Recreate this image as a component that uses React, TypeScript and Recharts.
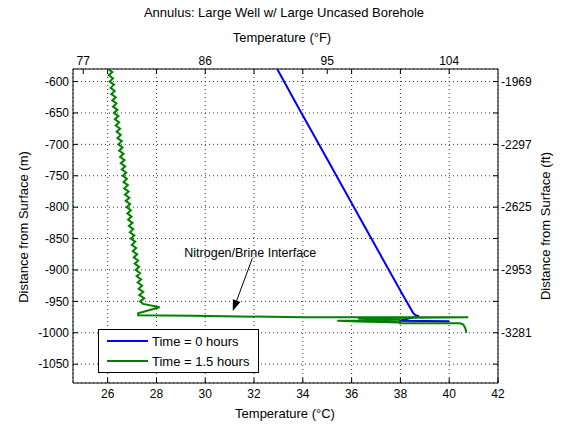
import React from 'react';
import { ScatterChart, Scatter, XAxis, YAxis, CartesianGrid, ReferenceLine } from 'recharts';

const FONT = '"Liberation Sans", Arial, Helvetica, sans-serif';
const BLUE = '#0000ff';
const GREEN = '#008000';

// axis ticks
const celsiusTicks = [26, 28, 30, 32, 34, 36, 38, 40, 42];
const fahrenheitTicks = [25, 26, 28, 30, 32, 34, 35, 36, 38, 40]; // 25/30/35/40 C carry F labels
const fahrenheitLabelled = [25, 30, 35, 40];
const depthTicks = [-600, -650, -700, -750, -800, -850, -900, -950, -1000, -1050];

// Time = 0 hours
const blueTemp = [32.95, 33.8, 34.66, 35.52, 36.38, 37.24, 38.1, 38.53, 38.62, 38.76, 37.95, 40.0];
const blueDepth = [-580, -640, -700, -760, -820, -880, -940, -969, -972, -973.5, -981, -981.5];

// Time = 1.5 hours
const greenTemp = [
  26.03, 26.19, 26.05, 26.22, 26.08, 26.26, 26.12, 26.29, 26.15, 26.33,
  26.19, 26.36, 26.22, 26.4, 26.26, 26.44, 26.3, 26.47, 26.33, 26.51,
  26.37, 26.54, 26.4, 26.58, 26.44, 26.61, 26.47, 26.65, 26.51, 26.69,
  26.54, 26.72, 26.58, 26.76, 26.62, 26.79, 26.65, 26.83, 26.68, 26.86,
  26.71, 26.89, 26.74, 26.92, 26.78, 26.95, 26.81, 26.98, 26.84, 27.02,
  26.87, 27.05, 26.91, 27.09, 26.95, 27.13, 26.99, 27.17, 27.03, 27.21,
  27.07, 27.25, 27.11, 27.29, 27.15, 27.33, 27.19, 27.37, 27.23, 27.41,
  27.27, 27.46, 27.3, 27.5, 27.33,
  27.45, 28.13, 27.25, 27.25, 29.5, 34.0, 40.78, 36.26, 37.98, 36.3, 37.98, 35.41,
  36.3, 37.98, 37.98, 40.44, 40.58, 40.66, 40.71,
];
const greenDepth = [
  -580, -585, -590, -595, -600, -605, -610, -615, -620, -625,
  -630, -635, -640, -645, -650, -655, -660, -665, -670, -675,
  -680, -685, -690, -695, -700, -705, -710, -715, -720, -725,
  -730, -735, -740, -745, -750, -755, -760, -765, -770, -775,
  -780, -785, -790, -795, -800, -805, -810, -815, -820, -825,
  -830, -835, -840, -845, -850, -855, -860, -865, -870, -875,
  -880, -885, -890, -895, -900, -905, -910, -915, -920, -925,
  -930, -935, -940, -945, -950,
  -954, -959.5, -969, -972, -973, -975.3, -975.5, -977, -978.5, -979.5, -981, -981,
  -982, -983.5, -985, -985, -987, -993, -1000,
];

// annotation arrow (start near text, tip at interface)
const arrowFrom = { x: 31.93, y: -881.4 };
const arrowTo = { x: 31.13, y: -965.4 };

const blueData = blueTemp.map((t, i) => ({ t, d: blueDepth[i] }));
const greenData = greenTemp.map((t, i) => ({ t, d: greenDepth[i] }));

const toF = (c: number) => Math.round(c * 9 / 5 + 32);
const toFt = (m: number) => Math.round(m * 3.28084);

const noDot = () => <g />;

const tickStyle = { fill: '#000', fontSize: 12, fontFamily: FONT };

const ArrowShape = (p: any) => {
  const { x1, y1, x2, y2 } = p;
  const ang = Math.atan2(y2 - y1, x2 - x1);
  const len = 11;
  const hw = 4;
  const bx = x2 - len * Math.cos(ang);
  const by = y2 - len * Math.sin(ang);
  const px = -Math.sin(ang) * hw;
  const py = Math.cos(ang) * hw;
  return (
    <g>
      <line x1={x1} y1={y1} x2={bx} y2={by} stroke="#000" strokeWidth={1} />
      <polygon points={`${x2},${y2} ${bx + px},${by + py} ${bx - px},${by - py}`} fill="#000" />
      <text x={x1 - 2} y={y1 - 1} textAnchor="middle" fontSize={12.5} fontFamily={FONT} fill="#000">
        Nitrogen/Brine Interface
      </text>
    </g>
  );
};

const Label = ({ x, y, rot = 0, size = 13, children }: any) => (
  <div
    style={{
      position: 'absolute',
      left: x,
      top: y,
      transform: `translate(-50%, -50%) rotate(${rot}deg)`,
      whiteSpace: 'nowrap',
      fontFamily: FONT,
      fontSize: size,
      lineHeight: 1,
      color: '#000',
    }}
  >
    {children}
  </div>
);

const LegendRow = ({ color, text }: { color: string; text: string }) => (
  <div style={{ display: 'flex', alignItems: 'center', height: 20 }}>
    <div style={{ width: 41, height: 2, background: color, marginLeft: 8, marginRight: 4 }} />
    <span style={{ fontFamily: FONT, fontSize: 13 }}>{text}</span>
  </div>
);

export default function App() {
  return (
    <div style={{ position: 'absolute', left: 0, top: 0, width: 562, height: 425, background: '#fff' }}>
      <ScatterChart width={562} height={425} margin={{ top: 0, right: 0, bottom: 0, left: 0 }}>
        <CartesianGrid xAxisId="c" yAxisId="m" stroke="#333" strokeDasharray="1 3" />
        <XAxis
          xAxisId="c"
          dataKey="t"
          type="number"
          orientation="bottom"
          domain={[24.58, 42]}
          allowDataOverflow
          ticks={celsiusTicks}
          interval={0}
          height={42}
          tickSize={-5}
          tickMargin={11}
          stroke="#000"
          tick={tickStyle}
        />
        <XAxis
          xAxisId="f"
          dataKey="t"
          type="number"
          orientation="top"
          domain={[24.58, 42]}
          allowDataOverflow
          ticks={fahrenheitTicks}
          interval={0}
          height={69}
          tickSize={-5}
          tickMargin={9}
          stroke="#000"
          tick={tickStyle}
          tickFormatter={(v: number) => (fahrenheitLabelled.includes(v) ? String(toF(v)) : '')}
        />
        <YAxis
          yAxisId="m"
          dataKey="d"
          type="number"
          orientation="left"
          domain={[-1080, -580]}
          allowDataOverflow
          ticks={depthTicks}
          interval={0}
          width={73}
          tickSize={-5}
          tickMargin={9}
          stroke="#000"
          tick={tickStyle}
        />
        <YAxis
          yAxisId="ft"
          dataKey="d"
          type="number"
          orientation="right"
          domain={[-1080, -580]}
          allowDataOverflow
          ticks={depthTicks}
          interval={0}
          width={64}
          tickSize={-5}
          tickMargin={8}
          stroke="#000"
          tick={tickStyle}
          tickFormatter={(v: number) => (v % 100 === 0 ? String(toFt(v)) : '')}
        />
        <Scatter
          xAxisId="c"
          yAxisId="m"
          data={blueData}
          fill={BLUE}
          line={{ stroke: BLUE, strokeWidth: 2 }}
          lineJointType="linear"
          shape={noDot}
          isAnimationActive={false}
        />
        <Scatter
          xAxisId="c"
          yAxisId="m"
          data={greenData}
          fill={GREEN}
          line={{ stroke: GREEN, strokeWidth: 2 }}
          lineJointType="linear"
          shape={noDot}
          isAnimationActive={false}
        />
        <ReferenceLine
          xAxisId="c"
          yAxisId="m"
          segment={[arrowFrom, arrowTo]}
          shape={ArrowShape}
        />
      </ScatterChart>

      <Label x={284} y={12}>Annulus: Large Well w/ Large Uncased Borehole</Label>
      <Label x={282} y={37}>Temperature (°F)</Label>
      <Label x={285} y={413}>Temperature (°C)</Label>
      <Label x={23} y={227} rot={-90}>Distance from Surface (m)</Label>
      <Label x={545} y={226} rot={-90}>Distance from Surface (ft)</Label>

      <div
        style={{
          position: 'absolute',
          left: 98,
          top: 329,
          width: 161,
          height: 44,
          boxSizing: 'border-box',
          border: '1px solid #000',
          background: '#fff',
          paddingTop: 1,
        }}
      >
        <LegendRow color={BLUE} text="Time = 0 hours" />
        <LegendRow color={GREEN} text="Time = 1.5 hours" />
      </div>
    </div>
  );
}
